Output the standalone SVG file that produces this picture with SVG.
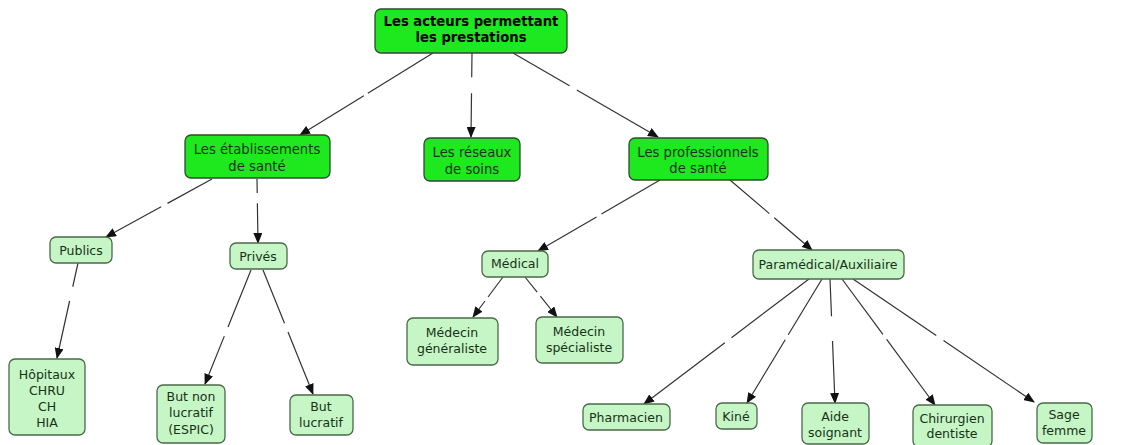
<svg xmlns="http://www.w3.org/2000/svg" width="1134" height="445" viewBox="0 0 1134 445">
<style>
.top{fill:#1ee81e;stroke:#2f4a2f;stroke-width:1.3}
.sub{fill:#c6f5c6;stroke:#4a6a4a;stroke-width:1.3}
text{font-family:"DejaVu Sans",Verdana,sans-serif;font-size:12.5px;fill:#173317;text-anchor:middle}
.t{font-size:13.2px}
.b{font-weight:bold;fill:#000;font-size:13.2px}
.c{fill:none;stroke:#333;stroke-width:1.2;marker-end:url(#ah)}
</style>
<defs>
<marker id="ah" markerUnits="userSpaceOnUse" markerWidth="11" markerHeight="9" refX="10" refY="4.5" orient="auto">
<path d="M0,0 L11,4.5 L0,9 z" fill="#111"/>
</marker>
</defs>
<rect width="1134" height="445" fill="#fff"/>
<g id="connectors">
<path class="c" pathLength="100" stroke-dasharray="49 3 100" d="M433,53 L300,135"/>
<path class="c" pathLength="100" stroke-dasharray="29 19 100" d="M472,53 L471,137"/>
<path class="c" pathLength="100" stroke-dasharray="39 5 100" d="M513,53 L658,137"/>
<path class="c" pathLength="100" stroke-dasharray="42 6 100" d="M212,179 L106,237"/>
<path class="c" pathLength="100" stroke-dasharray="22 16 100" d="M257,179 L258,243"/>
<path class="c" pathLength="100" stroke-dasharray="25 15 100" d="M78,263 L57,358"/>
<path class="c" pathLength="100" stroke-dasharray="50 8 100" d="M251,270 L205,384"/>
<path class="c" pathLength="100" stroke-dasharray="43 7 100" d="M263,270 L313,394"/>
<path class="c" pathLength="100" stroke-dasharray="48 4 100" d="M660,180 L538,251"/>
<path class="c" pathLength="100" stroke-dasharray="48 6 100" d="M730,180 L812,250"/>
<path class="c" pathLength="100" stroke-dasharray="50 10 100" d="M503,277 L473,317"/>
<path class="c" pathLength="100" stroke-dasharray="38 10 100" d="M525,277 L557,317"/>
<path class="c" pathLength="100" stroke-dasharray="47 4 100" d="M809,279 L644,404"/>
<path class="c" pathLength="100" stroke-dasharray="45 4 100" d="M822,279 L747,403"/>
<path class="c" pathLength="100" stroke-dasharray="30 20 100" d="M830,279 L835,403"/>
<path class="c" pathLength="100" stroke-dasharray="44 4 100" d="M842,279 L935,405"/>
<path class="c" pathLength="100" stroke-dasharray="46 4 100" d="M853,279 L1034,402"/>
</g>
<g id="root"><rect class="top" x="375" y="9" width="192" height="44" rx="6"/><text class="b" x="471" y="26">Les acteurs permettant</text><text class="b" x="471" y="42">les prestations</text></g>
<g id="etablissements"><rect class="top" x="185" y="135" width="145" height="43" rx="6"/><text class="t" x="257" y="154">Les établissements</text><text class="t" x="257" y="171">de santé</text></g>
<g id="reseaux"><rect class="top" x="424" y="138" width="96" height="43" rx="6"/><text class="t" x="472" y="157">Les réseaux</text><text class="t" x="472" y="174">de soins</text></g>
<g id="professionnels"><rect class="top" x="629" y="138" width="139" height="42" rx="6"/><text class="t" x="698" y="157">Les professionnels</text><text class="t" x="698" y="173">de santé</text></g>
<g id="publics"><rect class="sub" x="50" y="237" width="62" height="26" rx="6"/><text x="81" y="255">Publics</text></g>
<g id="prives"><rect class="sub" x="230" y="243" width="57" height="26" rx="6"/><text x="258" y="261">Privés</text></g>
<g id="hopitaux"><rect class="sub" x="9" y="359" width="76" height="76" rx="6"/><text x="47" y="379">Hôpitaux</text><text x="47" y="395">CHRU</text><text x="47" y="411">CH</text><text x="47" y="427">HIA</text></g>
<g id="but-non-lucratif"><rect class="sub" x="157" y="385" width="68" height="58" rx="6"/><text x="191" y="401">But non</text><text x="191" y="417">lucratif</text><text x="191" y="434">(ESPIC)</text></g>
<g id="but-lucratif"><rect class="sub" x="290" y="395" width="63" height="40" rx="6"/><text x="321" y="411">But</text><text x="321" y="427">lucratif</text></g>
<g id="medical"><rect class="sub" x="482" y="251" width="66" height="26" rx="6"/><text x="515" y="268">Médical</text></g>
<g id="generaliste"><rect class="sub" x="407" y="318" width="91" height="47" rx="6"/><text x="452" y="337">Médecin</text><text x="452" y="353">généraliste</text></g>
<g id="specialiste"><rect class="sub" x="536" y="317" width="87" height="46" rx="6"/><text x="579" y="336">Médecin</text><text x="579" y="352">spécialiste</text></g>
<g id="paramedical"><rect class="sub" x="753" y="250" width="151" height="29" rx="6"/><text x="828" y="269">Paramédical/Auxiliaire</text></g>
<g id="pharmacien"><rect class="sub" x="583" y="404" width="87" height="26" rx="6"/><text x="626" y="422">Pharmacien</text></g>
<g id="kine"><rect class="sub" x="716" y="403" width="41" height="26" rx="6"/><text x="736" y="421">Kiné</text></g>
<g id="aide-soignant"><rect class="sub" x="802" y="403" width="67" height="41" rx="6"/><text x="835" y="421">Aide</text><text x="835" y="437">soignant</text></g>
<g id="chirurgien"><rect class="sub" x="913" y="405" width="79" height="42" rx="6"/><text x="952" y="423">Chirurgien</text><text x="952" y="438">dentiste</text></g>
<g id="sage-femme"><rect class="sub" x="1037" y="403" width="55" height="40" rx="6"/><text x="1064" y="419">Sage</text><text x="1064" y="435">femme</text></g>
</svg>
